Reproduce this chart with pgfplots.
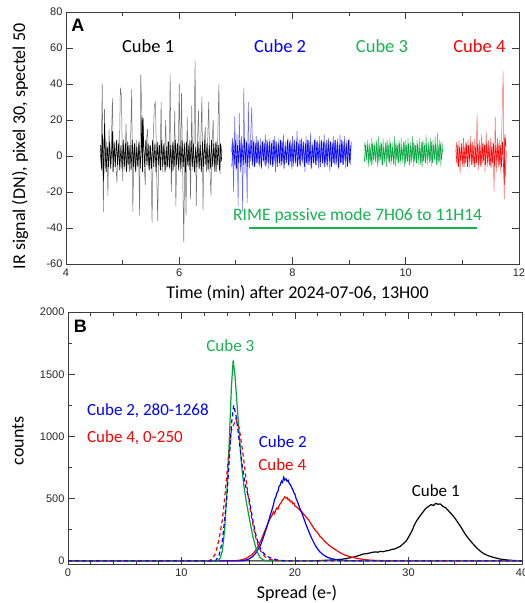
\documentclass[border=0pt]{standalone}
\usepackage{pgfplots}
\pgfplotsset{compat=1.18}
\usepackage{fontspec}
\setmainfont{Carlito}
\newfontfamily\ticksans{Liberation Sans}
\definecolor{cblue}{RGB}{0,0,255}
\definecolor{cred}{RGB}{255,0,0}
\definecolor{cgreen}{RGB}{0,165,60}
\definecolor{tgreen}{RGB}{20,180,80}
\definecolor{axgray}{RGB}{60,60,60}
\pgfplotsset{
  myax/.style={
    scale only axis, axis line style={axgray, line width=0.9pt},
    tick style={axgray, line width=0.8pt},
    tick align=inside, major tick length=7pt, minor tick length=4pt,
    /pgf/number format/assume math mode=true,
    /pgf/number format/set thousands separator={},
    ticklabel style={font=\ticksans\fontsize{11}{12}\selectfont, text=black!85},
    clip=true,
  }
}
\begin{document}
\begin{tikzpicture}
\useasboundingbox (0,0) rectangle (525pt,603pt);
% ---------------- Panel A ----------------
\begin{axis}[myax, at={(66pt,339pt)}, anchor=south west, width=453pt, height=252pt,
  xmin=4, xmax=12, ymin=-60, ymax=80,
  xtick={4,6,8,10,12}, minor x tick num=1,
  ytick={-60,-40,-20,0,20,40,60,80},
  xticklabel style={yshift=-1pt}]
\addplot[black!55, line width=0.5pt] coordinates {
(4.60,3) (4.62,-5) (4.64,40) (4.66,-31) (4.68,26) (4.70,-7) (4.72,8) (4.74,-22) (4.76,15) (4.78,-6)
(4.80,7) (4.82,32) (4.84,-8) (4.86,6) (4.88,-5) (4.90,-15) (4.92,9) (4.94,-6) (4.96,38) (4.98,33)
(5.00,-14) (5.02,7) (5.04,-8) (5.06,18) (5.08,-5) (5.10,6) (5.12,-9) (5.14,8) (5.16,37) (5.18,-31)
(5.20,5) (5.22,-7) (5.24,9) (5.26,-6) (5.28,7) (5.30,-33) (5.32,45) (5.34,23) (5.35,10) (5.36,20) (5.38,-6)
(5.40,-16) (5.42,8) (5.44,15) (5.46,-7) (5.48,6) (5.50,-5) (5.52,-37) (5.54,9) (5.56,28) (5.58,30)
(5.60,-8) (5.62,-36) (5.64,7) (5.66,-6) (5.68,30) (5.70,-9) (5.72,6) (5.74,-5) (5.76,20) (5.78,-7)
(5.80,8) (5.82,-6) (5.84,45) (5.86,-20) (5.88,7) (5.90,-8) (5.92,25) (5.94,-28) (5.96,6) (5.98,-5)
(6.00,40) (6.02,-9) (6.04,35) (6.06,-7) (6.08,-48) (6.10,8) (6.12,-33) (6.14,22) (6.16,-6) (6.18,9)
(6.20,-24) (6.22,28) (6.24,-8) (6.26,7) (6.28,53) (6.30,-28) (6.32,6) (6.34,25) (6.36,-7) (6.38,8)
(6.40,33) (6.42,-30) (6.44,7) (6.46,16) (6.48,-9) (6.50,6) (6.52,30) (6.54,-7) (6.56,-22) (6.58,8)
(6.60,20) (6.62,-6) (6.64,7) (6.66,-9) (6.68,10) (6.70,40) (6.72,-10) (6.74,5) (6.76,2)
};
\addplot[black, line width=0.6pt] coordinates {
(4.61,6) (4.63,-8) (4.64,12) (4.65,9) (4.66,-14) (4.67,-6) (4.68,18) (4.69,7) (4.71,-9) (4.73,5) (4.75,-6) (4.77,8) (4.79,-7)
(4.81,6) (4.82,14) (4.83,-9) (4.85,8) (4.87,-6) (4.89,9) (4.91,-5) (4.93,7) (4.95,-8) (4.97,6) (4.99,-7)
(5.01,9) (5.03,-6) (5.05,7) (5.07,-9) (5.09,8) (5.11,-5) (5.13,6) (5.15,-8) (5.17,9) (5.19,-6)
(5.21,7) (5.23,-9) (5.25,5) (5.27,-6) (5.29,8) (5.31,-7) (5.33,6) (5.34,22) (5.35,-9) (5.36,21) (5.37,8) (5.39,-6)
(5.41,9) (5.43,-5) (5.45,7) (5.47,-8) (5.49,6) (5.51,-7) (5.53,9) (5.55,-6) (5.57,7) (5.59,-9)
(5.61,8) (5.63,-5) (5.65,6) (5.67,-8) (5.69,9) (5.71,-6) (5.73,7) (5.75,-9) (5.77,5) (5.79,-6)
(5.81,8) (5.83,-7) (5.85,6) (5.87,-9) (5.89,8) (5.91,-6) (5.93,9) (5.95,-5) (5.97,7) (5.99,-8)
(6.01,6) (6.03,-7) (6.05,9) (6.07,-6) (6.09,7) (6.11,-9) (6.13,8) (6.15,-5) (6.17,6) (6.19,-8)
(6.21,9) (6.23,-6) (6.25,7) (6.27,-9) (6.29,5) (6.31,-6) (6.33,8) (6.35,-7) (6.37,6) (6.39,-9)
(6.41,8) (6.43,-6) (6.45,9) (6.47,-5) (6.49,7) (6.51,-8) (6.53,6) (6.55,-7) (6.57,9) (6.59,-6)
(6.61,7) (6.63,-9) (6.65,8) (6.67,-5) (6.69,6) (6.71,-8) (6.73,7) (6.75,-3)
};
\addplot[cblue!60, line width=0.5pt] coordinates {
(6.92,2) (6.94,10) (6.96,-20) (6.98,22) (7.00,-8) (7.02,12) (7.04,-28) (7.06,24) (7.08,-9) (7.10,11)
(7.12,-31) (7.14,38) (7.16,-10) (7.18,9) (7.20,-26) (7.22,30) (7.24,-7) (7.26,10) (7.28,27) (7.30,-6)
(7.32,9) (7.34,-5) (7.36,11) (7.38,-4) (7.40,8) (7.42,-6) (7.44,10) (7.46,-3) (7.48,9) (7.50,-5)
(7.52,12) (7.54,-4) (7.56,8) (7.58,-7) (7.60,10) (7.62,-3) (7.64,9) (7.66,-5) (7.68,11) (7.70,-9)
(7.72,8) (7.74,-4) (7.76,10) (7.78,-6) (7.80,9) (7.82,-3) (7.84,12) (7.86,-5) (7.88,8) (7.90,-4)
(7.92,10) (7.94,-6) (7.96,9) (7.98,-7) (8.00,11) (8.02,-4) (8.04,8) (8.06,-5) (8.08,14) (8.10,-3)
(8.12,9) (8.14,-6) (8.16,10) (8.18,-4) (8.20,8) (8.22,-9) (8.24,11) (8.26,-5) (8.28,9) (8.30,-3)
(8.32,13) (8.34,-6) (8.36,8) (8.38,-4) (8.40,10) (8.42,-5) (8.44,9) (8.46,-7) (8.48,11) (8.50,-3)
(8.52,8) (8.54,-5) (8.56,12) (8.58,-4) (8.60,9) (8.62,-6) (8.64,10) (8.66,-9) (8.68,8) (8.70,-4)
(8.72,11) (8.74,-5) (8.76,9) (8.78,-3) (8.80,10) (8.82,-6) (8.84,12) (8.86,-4) (8.88,8) (8.90,-5)
(8.92,11) (8.94,-7) (8.96,9) (8.98,-4) (9.00,10) (9.02,-5) (9.04,8)
};
\addplot[cblue, line width=0.6pt] coordinates {
(6.93,-6) (6.95,8) (6.97,-5) (6.99,9) (7.01,-7) (7.03,6) (7.05,-4) (7.07,9) (7.09,-6) (7.11,7)
(7.13,-5) (7.15,10) (7.17,-4) (7.19,8) (7.21,-6) (7.23,7) (7.25,-3) (7.27,9) (7.29,-5) (7.31,8)
(7.33,-6) (7.35,7) (7.37,-4) (7.39,9) (7.41,-5) (7.43,6) (7.45,-7) (7.47,8) (7.49,-3) (7.51,7)
(7.53,-6) (7.55,9) (7.57,-4) (7.59,8) (7.61,-5) (7.63,7) (7.65,-6) (7.67,9) (7.69,-3) (7.71,8)
(7.73,-6) (7.75,7) (7.77,-4) (7.79,9) (7.81,-5) (7.83,8) (7.85,-7) (7.87,6) (7.89,-4) (7.91,9)
(7.93,-5) (7.95,8) (7.97,-3) (7.99,7) (8.01,-6) (8.03,9) (8.05,-4) (8.07,8) (8.09,-6) (8.11,7)
(8.13,-5) (8.15,9) (8.17,-3) (8.19,8) (8.21,-6) (8.23,7) (8.25,-4) (8.27,9) (8.29,-5) (8.31,8)
(8.33,-7) (8.35,6) (8.37,-4) (8.39,9) (8.41,-5) (8.43,8) (8.45,-3) (8.47,7) (8.49,-6) (8.51,9)
(8.53,-4) (8.55,8) (8.57,-6) (8.59,7) (8.61,-5) (8.63,9) (8.65,-3) (8.67,8) (8.69,-6) (8.71,7)
(8.73,-4) (8.75,9) (8.77,-5) (8.79,8) (8.81,-7) (8.83,6) (8.85,-4) (8.87,9) (8.89,-5) (8.91,8)
(8.93,-3) (8.95,7) (8.97,-6) (8.99,9) (9.01,-4) (9.03,6)
};
\addplot[cgreen!65, line width=0.5pt] coordinates {
(9.26,3) (9.28,8) (9.30,-4) (9.32,9) (9.34,-6) (9.36,7) (9.38,-3) (9.40,10) (9.42,-5) (9.44,8)
(9.46,-4) (9.48,9) (9.50,-6) (9.52,11) (9.54,-3) (9.56,8) (9.58,-5) (9.60,10) (9.62,-4) (9.64,7)
(9.66,-6) (9.68,9) (9.70,-3) (9.72,10) (9.74,-5) (9.76,8) (9.78,-4) (9.80,11) (9.82,-6) (9.84,7)
(9.86,-3) (9.88,9) (9.90,-5) (9.92,10) (9.94,-4) (9.96,8) (9.98,-6) (10.00,9) (10.02,-3) (10.04,10)
(10.06,-5) (10.08,8) (10.10,-4) (10.12,11) (10.14,-6) (10.16,7) (10.18,-3) (10.20,9) (10.22,-5) (10.24,10)
(10.26,-4) (10.28,8) (10.30,-6) (10.32,9) (10.34,-3) (10.36,12) (10.38,-5) (10.40,8) (10.42,-4) (10.44,10)
(10.46,-6) (10.48,9) (10.50,-3) (10.52,11) (10.54,-5) (10.56,13) (10.58,-4) (10.60,9) (10.62,-6) (10.64,8) (10.66,2)
};
\addplot[cgreen, line width=0.6pt] coordinates {
(9.27,-3) (9.29,6) (9.31,-2) (9.33,7) (9.35,-4) (9.37,5) (9.39,-5) (9.41,7) (9.43,-2) (9.45,6)
(9.47,-3) (9.49,8) (9.51,-4) (9.53,6) (9.55,-2) (9.57,7) (9.59,-5) (9.61,5) (9.63,-3) (9.65,8)
(9.67,-2) (9.69,6) (9.71,-4) (9.73,7) (9.75,-3) (9.77,5) (9.79,-5) (9.81,8) (9.83,-2) (9.85,6)
(9.87,-4) (9.89,7) (9.91,-3) (9.93,5) (9.95,-2) (9.97,8) (9.99,-4) (10.01,6) (10.03,-3) (10.05,7)
(10.07,-5) (10.09,6) (10.11,-2) (10.13,8) (10.15,-3) (10.17,6) (10.19,-4) (10.21,7) (10.23,-2) (10.25,5)
(10.27,-5) (10.29,8) (10.31,-3) (10.33,6) (10.35,-4) (10.37,7) (10.39,-2) (10.41,6) (10.43,-3) (10.45,8)
(10.47,-4) (10.49,6) (10.51,-2) (10.53,7) (10.55,-5) (10.57,6) (10.59,-3) (10.61,7) (10.63,-2) (10.65,4)
};
\addplot[cred!60, line width=0.5pt] coordinates {
(10.88,2) (10.90,8) (10.92,-5) (10.94,9) (10.96,-10) (10.98,7) (11.00,-4) (11.02,10) (11.04,-6) (11.06,8)
(11.08,-3) (11.10,9) (11.12,-7) (11.14,11) (11.16,-5) (11.18,8) (11.20,-4) (11.22,10) (11.24,-6) (11.26,23)
(11.28,-8) (11.30,9) (11.32,-5) (11.34,12) (11.36,-4) (11.38,8) (11.40,-9) (11.42,14) (11.44,-6) (11.46,9)
(11.48,-5) (11.50,10) (11.52,-7) (11.54,8) (11.56,-20) (11.58,22) (11.60,-9) (11.62,10) (11.64,-6) (11.66,9)
(11.68,-10) (11.70,21) (11.72,47) (11.74,-24) (11.75,10) (11.76,-12) (11.78,3)
};
\addplot[cred, line width=0.6pt] coordinates {
(10.89,-4) (10.91,6) (10.93,-6) (10.95,5) (10.97,-3) (10.99,7) (11.01,-6) (11.03,5) (11.05,-4) (11.07,7)
(11.09,-6) (11.11,6) (11.13,-3) (11.15,7) (11.17,-5) (11.19,6) (11.21,-6) (11.23,5) (11.25,-4) (11.27,7)
(11.29,-5) (11.31,6) (11.33,-6) (11.35,7) (11.37,-3) (11.39,6) (11.41,-5) (11.43,7) (11.45,-4) (11.47,6)
(11.49,-6) (11.51,5) (11.53,-4) (11.55,7) (11.57,-6) (11.59,6) (11.61,-3) (11.63,7) (11.65,-5) (11.67,6)
(11.69,-6) (11.71,8) (11.73,-8) (11.74,-16) (11.75,12) (11.77,5)
};
\addplot[tgreen, line width=1.5pt] coordinates {(7.23,-40) (11.25,-40)};
\node[font=\fontsize{18.5}{20}\selectfont] at (axis cs:5.45,61) {Cube 1};
\node[font=\fontsize{18.5}{20}\selectfont, text=cblue] at (axis cs:7.78,61) {Cube 2};
\node[font=\fontsize{18.5}{20}\selectfont, text=tgreen] at (axis cs:9.58,61) {Cube 3};
\node[font=\fontsize{18.5}{20}\selectfont, text=cred] at (axis cs:11.3,61) {Cube 4};
\node[font=\fontsize{17.5}{19}\selectfont, text=tgreen] at (axis cs:9.15,-33) {RIME passive mode 7H06 to 11H14};
\node[font=\ticksans\bfseries\fontsize{18}{20}\selectfont, anchor=north west, inner sep=0pt] at (axis cs:4.09,76) {A};
\end{axis}
% ---------------- Panel B ----------------
\begin{axis}[myax, at={(68pt,39pt)}, anchor=south west, width=454pt, height=252pt,
  xmin=0, xmax=40, ymin=-25, ymax=2000,
  xtick={0,10,20,30,40}, minor x tick num=4,
  ytick={0,500,1000,1500,2000}, minor y tick num=1,
  xticklabel style={yshift=-1pt}]
\addplot[black, line width=1.2pt] coordinates {
(0,0) (21.5,0) (22.0,2) (22.5,4) (23.0,6) (23.5,9) (24.0,12) (24.5,18) (25.0,28) (25.3,33) (25.5,40) (25.8,48)
(26.0,55) (26.3,58) (26.5,62) (26.8,68) (27.0,72) (27.3,70) (27.5,76) (27.8,74) (28.0,80) (28.3,84) (28.5,92) (28.8,96)
(29.0,105) (29.3,118) (29.5,135) (29.8,160) (30.0,190) (30.3,240) (30.5,285) (30.7,320) (31.0,360) (31.3,395)
(31.5,420) (31.8,440) (32.0,452) (32.2,445) (32.4,462) (32.6,455) (32.8,458) (33.0,440) (33.3,425) (33.6,395)
(34.0,355) (34.3,315) (34.6,275) (35.0,215) (35.3,178) (35.6,145) (36.0,105) (36.3,80) (36.6,60) (37.0,42)
(37.5,28) (38.0,16) (38.5,9) (39.0,5) (39.5,2) (40,1)
};
\addplot[cred, line width=1.2pt] coordinates {
(0,0) (14.6,0) (15.0,4) (15.4,10) (15.8,25) (16.2,50) (16.5,80) (16.8,125) (17.0,165) (17.2,210) (17.4,255)
(17.6,300) (17.8,340) (18.0,370) (18.1,395) (18.2,380) (18.3,410) (18.4,425) (18.5,415) (18.6,445) (18.7,460)
(18.8,470) (18.9,490) (19.0,500) (19.1,515) (19.2,505) (19.3,510) (19.4,490) (19.5,495) (19.6,475) (19.7,480)
(19.8,460) (19.9,465) (20.0,440) (20.2,430) (20.4,410) (20.6,395) (20.8,372) (21.0,350) (21.2,330) (21.4,300)
(21.6,270) (21.8,245) (22.0,225) (22.2,198) (22.4,180) (22.6,160) (22.8,142) (23.0,125) (23.2,112) (23.4,100)
(23.6,88) (23.8,75) (24.0,65) (24.2,55) (24.6,40) (25.0,30) (25.5,20) (26.0,12) (26.5,7) (27,4) (28,1) (29,0) (40,0)
};
\addplot[cblue, line width=1.2pt] coordinates {
(0,0) (15.2,0) (15.5,3) (15.8,10) (16.0,18) (16.2,30) (16.4,48) (16.6,70) (16.8,100) (17.0,135) (17.2,185)
(17.4,240) (17.6,295) (17.8,360) (18.0,420) (18.1,450) (18.2,495) (18.3,510) (18.4,545) (18.5,560) (18.6,600)
(18.7,610) (18.8,640) (18.9,630) (19.0,672) (19.1,650) (19.2,660) (19.3,640) (19.4,648) (19.5,620) (19.6,612)
(19.7,590) (19.8,575) (19.9,548) (20.0,535) (20.1,500) (20.2,480) (20.3,455) (20.4,430) (20.6,385) (20.8,335)
(21.0,285) (21.2,240) (21.4,195) (21.6,158) (21.8,122) (22.0,95) (22.2,72) (22.4,56) (22.6,42) (22.8,32)
(23.0,24) (23.4,14) (23.8,8) (24.2,4) (25,1) (26,0) (40,0)
};
\addplot[cgreen, line width=1.2pt] coordinates {
(0,0) (13.0,0) (13.2,3) (13.4,20) (13.6,80) (13.8,250) (14.0,550) (14.2,950) (14.4,1400) (14.55,1610)
(14.7,1500) (14.9,1250) (15.1,1000) (15.3,760) (15.5,600) (15.7,480) (16.0,330) (16.3,190) (16.6,90)
(16.9,30) (17.2,8) (17.5,0) (40,0)
};
\addplot[cred, line width=1.2pt, dash pattern=on 4pt off 3pt] coordinates {
(0,0) (12.4,0) (12.7,15) (13.0,60) (13.3,170) (13.6,330) (13.8,500) (14.1,800) (14.4,1050) (14.8,1140)
(15.1,1060) (15.4,870) (15.7,650) (15.9,500) (16.2,330) (16.5,200) (16.8,110) (17.1,60) (17.4,30)
(17.8,12) (18.3,4) (19,0) (40,0)
};
\addplot[cblue, line width=1.2pt, dash pattern=on 4pt off 3pt] coordinates {
(0,0) (13.0,0) (13.3,40) (13.6,160) (13.8,330) (14.0,520) (14.2,800) (14.4,1100) (14.6,1250) (14.8,1170)
(15.0,1030) (15.3,800) (15.6,620) (16.0,480) (16.3,320) (16.6,190) (16.9,110) (17.2,65) (17.5,40)
(17.8,25) (18.2,12) (18.7,4) (19.2,0) (40,0)
};
\node[font=\fontsize{17}{19}\selectfont, text=tgreen] at (axis cs:14.3,1726) {Cube 3};
\node[font=\fontsize{17}{19}\selectfont, text=cblue, anchor=west, inner sep=0pt] at (axis cs:1.67,1211) {Cube 2, 280-1268};
\node[font=\fontsize{17}{19}\selectfont, text=cred, anchor=west, inner sep=0pt] at (axis cs:1.67,994) {Cube 4, 0-250};
\node[font=\fontsize{17}{19}\selectfont, text=cblue, anchor=west, inner sep=0pt] at (axis cs:16.8,955) {Cube 2};
\node[font=\fontsize{17}{19}\selectfont, text=cred, anchor=west, inner sep=0pt] at (axis cs:16.75,770) {Cube 4};
\node[font=\fontsize{17}{19}\selectfont] at (axis cs:32.4,568) {Cube 1};
\node[font=\ticksans\bfseries\fontsize{18}{20}\selectfont, anchor=north west, inner sep=0pt] at (axis cs:0.5,1935) {B};
\end{axis}
% ---------------- axis titles ----------------
\node[font=\fontsize{18}{20}\selectfont] at (297.5pt,310.3pt) {Time (min) after 2024-07-06, 13H00};
\node[font=\fontsize{18}{20}\selectfont, rotate=90] at (20pt,456.5pt) {IR signal (DN), pixel 30, spectel 50};
\node[font=\fontsize{18}{20}\selectfont] at (297pt,10pt) {Spread (e-)};
\node[font=\fontsize{18}{20}\selectfont, rotate=90] at (18pt,162.3pt) {counts};
\end{tikzpicture}
\end{document}
